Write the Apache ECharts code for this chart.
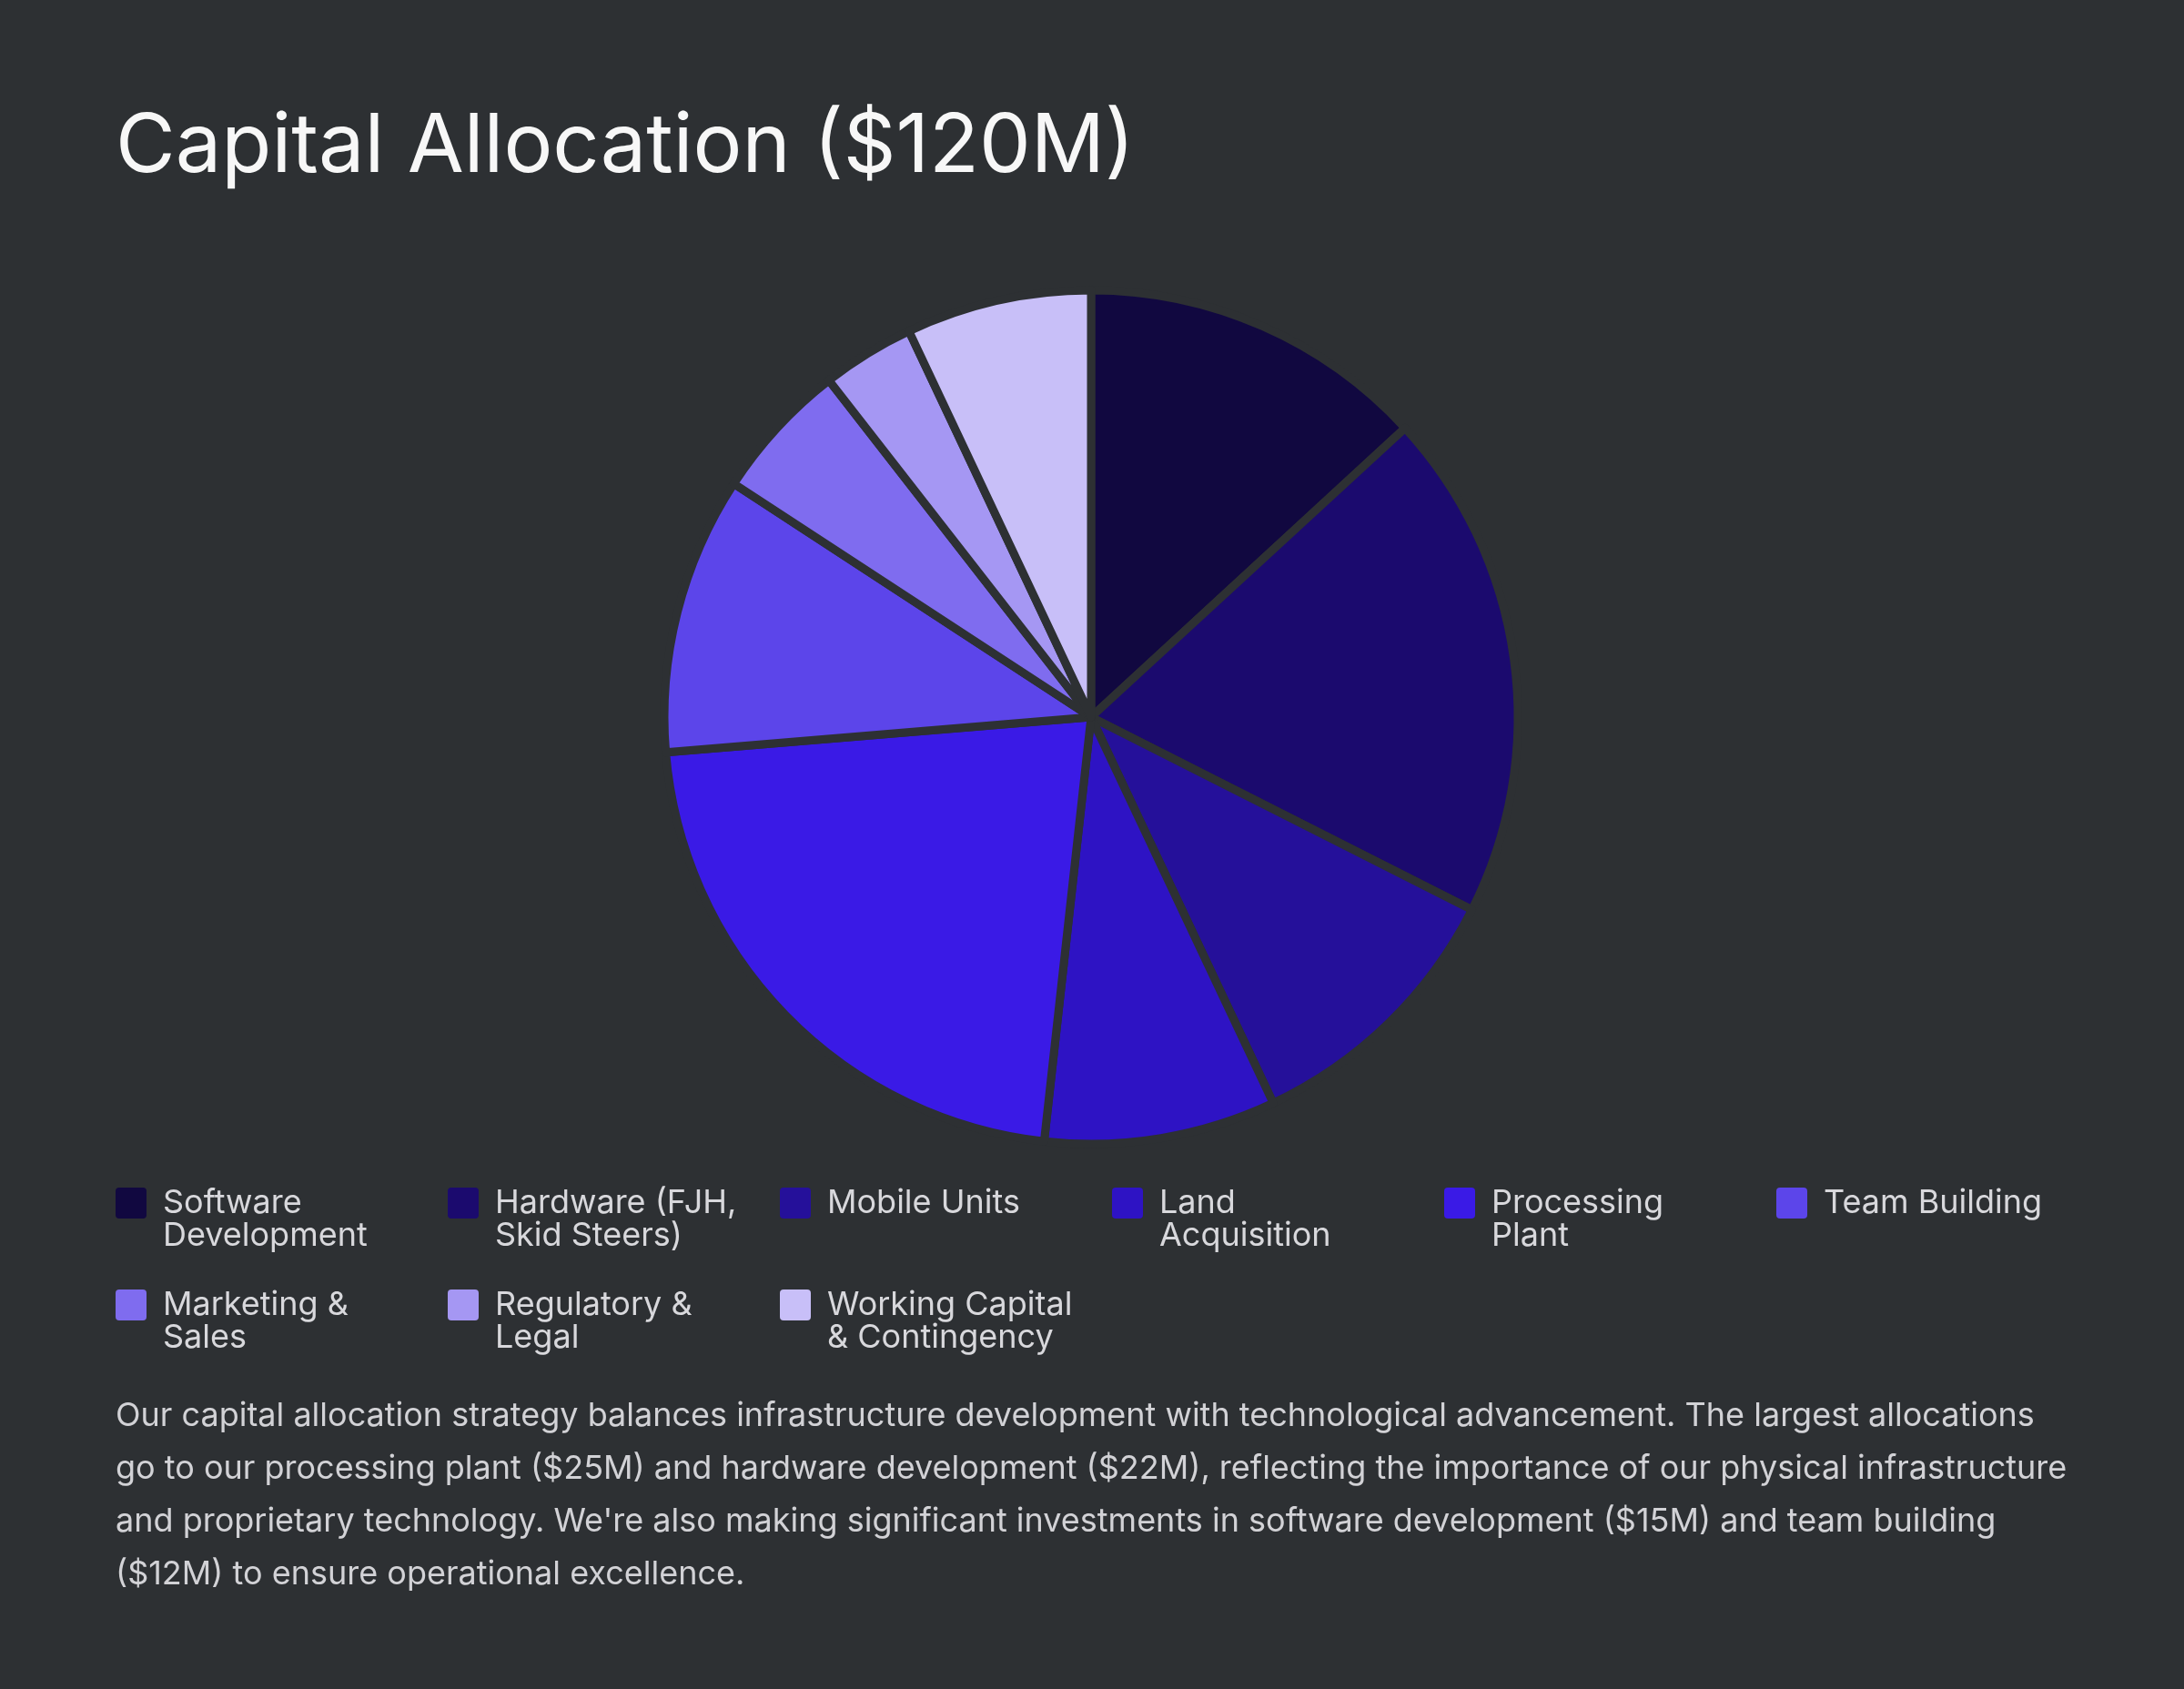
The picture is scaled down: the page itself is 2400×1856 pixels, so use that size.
<!DOCTYPE html>
<html>
<head>
<meta charset="utf-8">
<title>Capital Allocation</title>
<script src="https://cdn.jsdelivr.net/npm/echarts@6/dist/echarts.min.js"></script>
<style>
  html, body { margin: 0; padding: 0; background: #2d3033; }
  #main { width: 2400px; height: 1856px; }
</style>
</head>
<body>
<div id="main"></div>
<script>
var categories = [
    'Software Development',
    'Hardware (FJH, Skid Steers)',
    'Mobile Units',
    'Land Acquisition',
    'Processing Plant',
    'Team Building',
    'Marketing & Sales',
    'Regulatory & Legal',
    'Working Capital & Contingency'
];
// legend labels wrapped the way the original legend breaks them
// (leading blank line keeps the first line level with the swatch)
var legendLabels = [
    '\nSoftware\nDevelopment',
    '\nHardware (FJH,\nSkid Steers)',
    '\nMobile Units\n',
    '\nLand\nAcquisition',
    '\nProcessing\nPlant',
    '\nTeam Building\n',
    '\nMarketing &\nSales',
    '\nRegulatory &\nLegal',
    '\nWorking Capital\n& Contingency'
];
var amounts = [15, 22, 12, 10, 25, 12, 6, 4, 8]; // $M
var colors = ['#110840', '#1b0a6e', '#25109a', '#2e13c4', '#3a1ae6',
              '#5c45ea', '#7f6cef', '#a597f3', '#c8bff8'];

var description = "Our capital allocation strategy balances infrastructure development with technological advancement. The largest allocations\n" +
    "go to our processing plant ($25M) and hardware development ($22M), reflecting the importance of our physical infrastructure\n" +
    "and proprietary technology. We're also making significant investments in software development ($15M) and team building\n" +
    "($12M) to ensure operational excellence.";

var pieData = [];
for (var i = 0; i < categories.length; i++) {
    pieData.push({ name: categories[i], value: amounts[i] });
}

var myChart = echarts.init(document.getElementById('main'));
var option = {
    backgroundColor: '#2d3033',
    color: colors,
    animation: false,
    title: {
        text: 'Capital Allocation ($120M)',
        left: 127,
        top: 117,
        padding: 0,
        textStyle: {
            color: '#f7f7f7',
            fontFamily: 'Inter',
            fontSize: 90,
            fontWeight: 'normal'
        }
    },
    legend: {
        left: 127,
        top: 1268,
        width: 2250,
        padding: 0,
        itemGap: 4,
        itemWidth: 34,
        itemHeight: 34,
        icon: 'path://M4,0H30Q34,0 34,4V30Q34,34 30,34H4Q0,34 0,30V4Q0,0 4,0Z',
        itemStyle: { borderWidth: 0 },
        data: categories,
        formatter: function (name) {
            return legendLabels[categories.indexOf(name)];
        },
        textStyle: {
            color: '#d8d8dc',
            fontFamily: 'Inter',
            fontSize: 36,
            lineHeight: 36,
            width: 309,
            padding: [0, 0, 0, 13]
        }
    },
    graphic: [
        {
            type: 'text',
            left: 127,
            top: 1527,
            style: {
                text: description,
                fill: '#d2d2d6',
                font: '36px Inter',
                lineHeight: 58
            }
        }
    ],
    series: [
        {
            name: 'Capital Allocation',
            type: 'pie',
            center: [1199, 788],
            radius: 469,
            startAngle: 90,
            clockwise: true,
            label: { show: false },
            labelLine: { show: false },
            itemStyle: {
                borderColor: '#2d3033',
                borderWidth: 9
            },
            data: pieData
        }
    ]
};
myChart.setOption(option);
</script>
</body>
</html>
